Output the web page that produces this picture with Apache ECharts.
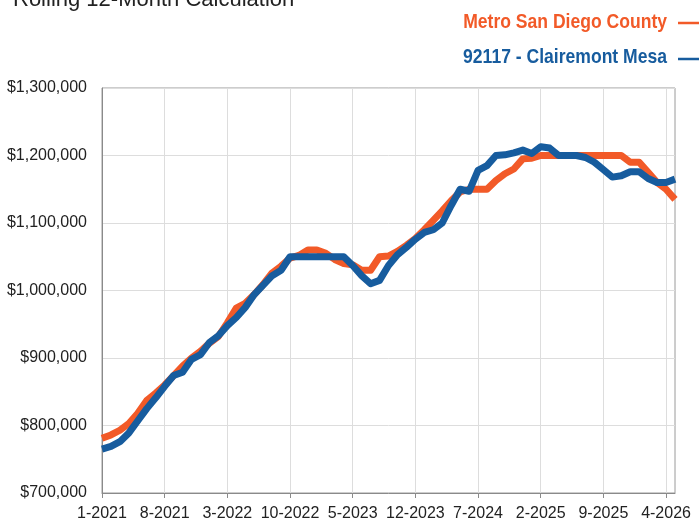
<!DOCTYPE html>
<html>
<head>
<meta charset="utf-8">
<script src="https://cdn.jsdelivr.net/npm/echarts@6/dist/echarts.min.js"></script>
<style>
  html, body { margin: 0; padding: 0; background: #fff; }
  #chart { width: 699px; height: 522px; }
</style>
</head>
<body>
<div id="chart"></div>
<script>
// Monthly categories, 1-2021 through 5-2026
const startYear = 2021;
const monthCount = 65;
const months = [];
for (let i = 0; i < monthCount; i++) {
  const m = (i % 12) + 1;
  const y = startYear + Math.floor(i / 12);
  months.push(m + '-' + y);
}

// Rolling 12-month median price, Metro San Diego County
const metroSanDiego = [
  781000, 786000, 793000, 803000, 818000, 837000, 848000, 860000, 874000, 888000,
  900000, 910000, 922000, 932000, 952000, 974000, 981000, 994000, 1009000, 1026000,
  1036000, 1048000, 1052000, 1060000, 1060000, 1055000, 1046000, 1040000, 1038000, 1030000,
  1030000, 1050000, 1051000, 1058000, 1067000, 1077000, 1090000, 1104000, 1118000, 1133000,
  1146000, 1150000, 1150000, 1150000, 1163000, 1173000, 1180000, 1195000, 1196000, 1200000,
  1200000, 1200000, 1200000, 1200000, 1200000, 1200000, 1200000, 1200000, 1200000, 1190000,
  1190000, 1175000, 1160000, 1150000, 1135000
];

// Rolling 12-month median price, 92117 - Clairemont Mesa
const clairemontMesa = [
  765000, 769000, 776000, 789000, 807000, 825000, 841000, 858000, 874000, 879000,
  898000, 905000, 923000, 933000, 948000, 960000, 975000, 994000, 1008000, 1022000,
  1030000, 1050000, 1050000, 1050000, 1050000, 1050000, 1050000, 1050000, 1037000, 1022000,
  1010000, 1015000, 1037000, 1053000, 1064000, 1076000, 1086000, 1090000, 1100000, 1126000,
  1150000, 1147000, 1178000, 1185000, 1200000, 1201000, 1204000, 1208000, 1203000, 1213000,
  1211000, 1200000, 1200000, 1200000, 1197000, 1190000, 1179000, 1168000, 1170000, 1176000,
  1176000, 1166000, 1160000, 1160000, 1165000
];

const seriesNames = ['Metro San Diego County', '92117 - Clairemont Mesa'];
const titleText = 'Rolling 12-Month Calculation';
const labelEvery = 7;

const ORANGE = '#F25A28';
const BLUE = '#175C9E';
const TEXT = '#222222';
const baseFont = '"Liberation Sans", Arial, Helvetica, sans-serif';
// condensed look for the legend: bold sans squeezed horizontally
const legendSqueeze = 0.836;

const chart = echarts.init(document.getElementById('chart'), null, { renderer: 'canvas' });

function legendText(label, color, y) {
  return {
    type: 'text', x: 667, y: y, scaleX: legendSqueeze, silent: true,
    style: { x: 0, y: 0, text: label, font: 'bold 21px ' + baseFont, fill: color, align: 'right', verticalAlign: 'middle' }
  };
}
function legendLine(color, y) {
  return {
    type: 'line', silent: true,
    shape: { x1: 678, y1: y, x2: 705, y2: y },
    style: { stroke: color, lineWidth: 2.5 }
  };
}

chart.setOption({
  animation: false,
  backgroundColor: '#ffffff',
  grid: {
    left: 102, right: 24, top: 88, bottom: 29,
    show: true, borderColor: '#9a9a9a', borderWidth: 1, backgroundColor: 'transparent'
  },
  graphic: [
    {
      type: 'text', x: 13, y: 0, silent: true,
      style: { text: titleText, font: 'normal 22px ' + baseFont, fill: TEXT, align: 'left', verticalAlign: 'middle' }
    },
    legendText(seriesNames[0], ORANGE, 22),
    legendLine(ORANGE, 23),
    legendText(seriesNames[1], BLUE, 57),
    legendLine(BLUE, 59)
  ],
  xAxis: {
    type: 'category',
    data: months,
    boundaryGap: false,
    axisLine: { show: true, lineStyle: { color: '#8a8a8a', width: 1 } },
    axisTick: { show: true, interval: i => i % labelEvery === 0, length: 5, lineStyle: { color: '#8a8a8a' } },
    axisLabel: {
      interval: i => i % labelEvery === 0, margin: 13, color: TEXT, fontSize: 16, fontFamily: baseFont
    },
    splitLine: { show: true, interval: i => i % labelEvery === 0, lineStyle: { color: '#dddddd', width: 1 } }
  },
  yAxis: {
    type: 'value',
    min: 700000, max: 1300000, interval: 100000,
    axisLine: { show: true, lineStyle: { color: '#8a8a8a', width: 1 } },
    axisTick: { show: false },
    axisLabel: {
      margin: 15, color: TEXT, fontSize: 16, fontFamily: baseFont,
      formatter: v => '$' + v.toString().replace(/\B(?=(\d{3})+(?!\d))/g, ',')
    },
    splitLine: { show: true, lineStyle: { color: '#dddddd', width: 1 } }
  },
  series: [
    {
      name: seriesNames[0], type: 'line', data: metroSanDiego,
      showSymbol: false, symbol: 'none', z: 2,
      lineStyle: { color: ORANGE, width: 7, join: 'round', cap: 'butt' },
      itemStyle: { color: ORANGE }
    },
    {
      name: seriesNames[1], type: 'line', data: clairemontMesa,
      showSymbol: false, symbol: 'none', z: 3,
      lineStyle: { color: BLUE, width: 7, join: 'round', cap: 'butt' },
      itemStyle: { color: BLUE }
    }
  ]
});
</script>
</body>
</html>
